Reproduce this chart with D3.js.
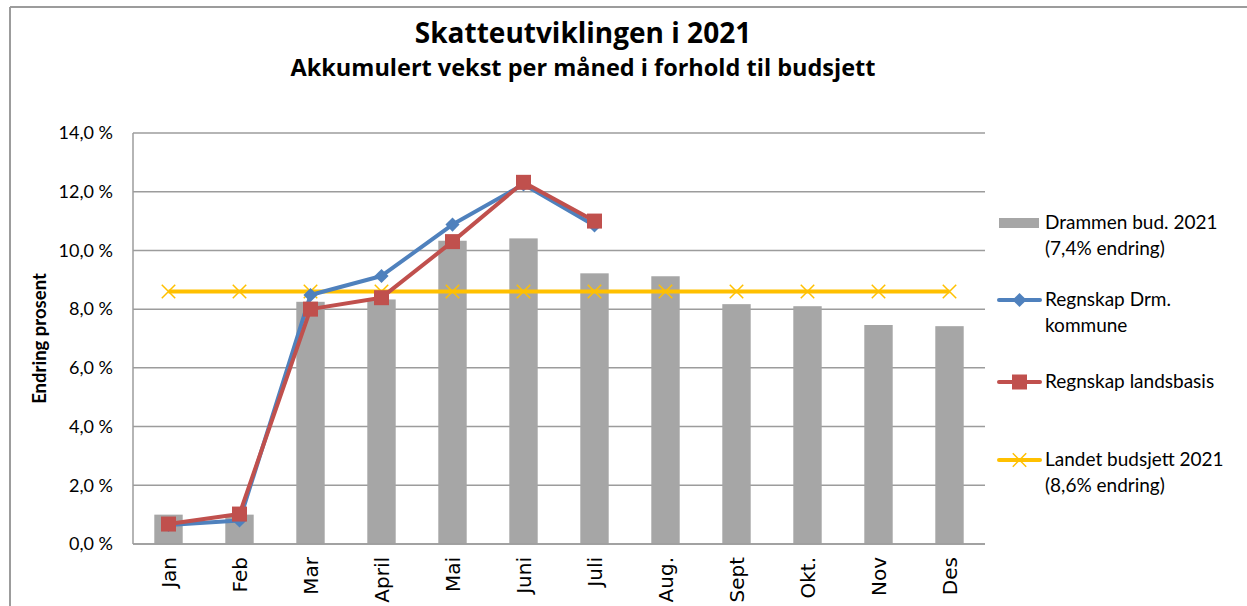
<!DOCTYPE html>
<html>
<head>
<meta charset="utf-8">
<script src="https://cdn.jsdelivr.net/npm/d3@7"></script>
<style>
  html, body { margin: 0; padding: 0; background: #fff; }
  svg { display: block; }
  text { fill: #000; }
</style>
</head>
<body>
<div id="chart"></div>
<script>
// months on the x axis
var months = ['Jan', 'Feb', 'Mar', 'April', 'Mai', 'Juni', 'Juli', 'Aug.', 'Sept', 'Okt.', 'Nov', 'Des'];

// budget Drammen 2021 (bars), percent
var drammenBud = [1.0, 1.0, 8.25, 8.33, 10.33, 10.41, 9.22, 9.12, 8.17, 8.1, 7.46, 7.42];
// accounts Drammen kommune, Jan..Juli
var regnskapDrm = [0.65, 0.8, 8.48, 9.13, 10.88, 12.25, 10.85];
// accounts whole country, Jan..Juli
var regnskapLand = [0.68, 1.02, 8.0, 8.39, 10.3, 12.32, 11.0];
// national budget 2021, flat
var landetBud = [8.6, 8.6, 8.6, 8.6, 8.6, 8.6, 8.6, 8.6, 8.6, 8.6, 8.6, 8.6];

var yTicks = [0, 2, 4, 6, 8, 10, 12, 14];

var legendLabels = [
  ['Drammen bud. 2021', '(7,4% endring)'],
  ['Regnskap Drm.', 'kommune'],
  ['Regnskap landsbasis'],
  ['Landet budsjett 2021', '(8,6% endring)']
];

var W = 1247, H = 606;
var plot = { left: 133, right: 985, top: 133, bottom: 544 };
var LATO = 'Lato, sans-serif';

var svg = d3.select('#chart').append('svg')
  .attr('width', W).attr('height', H);

/* chart frame (only top + left edges visible) */
svg.append('line')
  .attr('x1', 10).attr('x2', W).attr('y1', 7).attr('y2', 7)
  .attr('stroke', '#9c9c9c').attr('stroke-width', 2);
svg.append('line')
  .attr('x1', 10).attr('x2', 10).attr('y1', 7).attr('y2', H)
  .attr('stroke', '#9c9c9c').attr('stroke-width', 2);

/* titles */
svg.append('text')
  .attr('x', 583).attr('y', 43)
  .attr('text-anchor', 'middle')
  .style('font-family', '"Open Sans", sans-serif')
  .attr('font-weight', 'bold').attr('font-size', 28)
  .text('Skatteutviklingen i 2021');
svg.append('text')
  .attr('x', 583).attr('y', 76)
  .attr('text-anchor', 'middle')
  .style('font-family', '"Open Sans", sans-serif')
  .attr('font-weight', 'bold').attr('font-size', 23.5)
  .text('Akkumulert vekst per måned i forhold til budsjett');

/* scales */
var x = d3.scaleBand().domain(months).range([plot.left, plot.right]).padding(0);
var y = d3.scaleLinear().domain([0, 14]).range([plot.bottom, plot.top]);
var cx = function (m) { return x(m) + x.bandwidth() / 2; };
var barW = x.bandwidth() / 2.5;

/* grid lines */
svg.append('g').selectAll('line')
  .data(yTicks)
  .join('line')
  .attr('x1', plot.left).attr('x2', plot.right)
  .attr('y1', function (d) { return y(d); })
  .attr('y2', function (d) { return y(d); })
  .attr('stroke', '#9c9c9c').attr('stroke-width', 1.5);

/* y axis labels via d3 axis */
var yAxis = svg.append('g')
  .attr('transform', 'translate(' + plot.left + ',0)')
  .call(d3.axisLeft(y).tickValues(yTicks).tickSize(0).tickPadding(20)
    .tickFormat(function (d) { return d3.format('.1f')(d).replace('.', ',') + ' %'; }));
yAxis.select('.domain').remove();
yAxis.selectAll('text')
  .style('font-family', LATO)
  .attr('font-size', 18)
  .attr('fill', '#000');

svg.append('text')
  .attr('transform', 'translate(46,' + ((plot.top + plot.bottom) / 2) + ') rotate(-90)')
  .attr('text-anchor', 'middle')
  .style('font-family', LATO)
  .attr('font-weight', 'bold').attr('font-size', 18.5)
  .text('Endring prosent');

/* bars */
svg.append('g').selectAll('rect')
  .data(months)
  .join('rect')
  .attr('x', function (m) { return cx(m) - barW / 2; })
  .attr('width', barW)
  .attr('y', function (m, i) { return y(drammenBud[i]); })
  .attr('height', function (m, i) { return plot.bottom - y(drammenBud[i]); })
  .attr('fill', '#a6a6a6');

/* axis lines */
svg.append('line')
  .attr('x1', plot.left).attr('x2', plot.left)
  .attr('y1', plot.top).attr('y2', plot.bottom)
  .attr('stroke', '#9c9c9c').attr('stroke-width', 1.5);
svg.append('line')
  .attr('x1', plot.left).attr('x2', plot.right)
  .attr('y1', plot.bottom).attr('y2', plot.bottom)
  .attr('stroke', '#9c9c9c').attr('stroke-width', 1.5);

/* x axis labels, rotated */
var xAxis = svg.append('g')
  .attr('transform', 'translate(0,' + plot.bottom + ')')
  .call(d3.axisBottom(x).tickSize(0).tickPadding(0));
xAxis.select('.domain').remove();
xAxis.selectAll('text')
  .style('font-family', '"DejaVu Sans", Verdana, sans-serif')
  .attr('font-size', 20)
  .attr('fill', '#000')
  .attr('text-anchor', 'end')
  .attr('dy', '0.36em')
  .attr('transform', 'translate(0,13) rotate(-90)')
  .attr('x', 0).attr('y', 0);

var line = d3.line()
  .x(function (d, i) { return cx(months[i]); })
  .y(function (d) { return y(d); });

var yellow = '#ffc000', blue = '#4f81bd', red = '#c0504d';

/* yellow budget line with x markers */
svg.append('path')
  .datum(landetBud)
  .attr('d', line)
  .attr('fill', 'none').attr('stroke', yellow).attr('stroke-width', 4);

var cross = d3.symbol().type(d3.symbolX).size(120);
svg.append('g').selectAll('path')
  .data(landetBud)
  .join('path')
  .attr('transform', function (d, i) { return 'translate(' + cx(months[i]) + ',' + y(d) + ')'; })
  .attr('d', cross)
  .attr('fill', 'none').attr('stroke', yellow).attr('stroke-width', 1.5);

/* blue: Drammen accounts */
svg.append('path')
  .datum(regnskapDrm)
  .attr('d', line)
  .attr('fill', 'none').attr('stroke', blue).attr('stroke-width', 4)
  .attr('stroke-linejoin', 'round');
svg.append('g').selectAll('path')
  .data(regnskapDrm)
  .join('path')
  .attr('transform', function (d, i) { return 'translate(' + cx(months[i]) + ',' + y(d) + ') rotate(45)'; })
  .attr('d', d3.symbol().type(d3.symbolSquare).size(100))
  .attr('fill', blue);

/* red: national accounts */
svg.append('path')
  .datum(regnskapLand)
  .attr('d', line)
  .attr('fill', 'none').attr('stroke', red).attr('stroke-width', 4)
  .attr('stroke-linejoin', 'round');
svg.append('g').selectAll('path')
  .data(regnskapLand)
  .join('path')
  .attr('transform', function (d, i) { return 'translate(' + cx(months[i]) + ',' + y(d) + ')'; })
  .attr('d', d3.symbol().type(d3.symbolSquare).size(225))
  .attr('fill', red);

/* legend */
var legY = [223, 300, 382, 460];
var lg = svg.append('g');
lg.append('rect')
  .attr('x', 999).attr('y', legY[0] - 5).attr('width', 40).attr('height', 10)
  .attr('fill', '#a6a6a6');

function legLine(yy, color) {
  lg.append('line')
    .attr('x1', 999).attr('x2', 1040).attr('y1', yy).attr('y2', yy)
    .attr('stroke', color).attr('stroke-width', 4).attr('stroke-linecap', 'round');
}
legLine(legY[1], blue);
lg.append('path')
  .attr('transform', 'translate(1019.5,' + legY[1] + ') rotate(45)')
  .attr('d', d3.symbol().type(d3.symbolSquare).size(100))
  .attr('fill', blue);
legLine(legY[2], red);
lg.append('path')
  .attr('transform', 'translate(1019.5,' + legY[2] + ')')
  .attr('d', d3.symbol().type(d3.symbolSquare).size(225))
  .attr('fill', red);
legLine(legY[3], yellow);
lg.append('path')
  .attr('transform', 'translate(1019.5,' + legY[3] + ')')
  .attr('d', cross)
  .attr('fill', 'none').attr('stroke', yellow).attr('stroke-width', 1.5);

legendLabels.forEach(function (lines, k) {
  var t = lg.append('text')
    .attr('x', 1045).attr('y', legY[k] + 6)
    .style('font-family', LATO)
    .attr('font-size', 19);
  lines.forEach(function (s, j) {
    t.append('tspan').attr('x', 1045).attr('dy', j === 0 ? 0 : 26).text(s);
  });
});
</script>
</body>
</html>
